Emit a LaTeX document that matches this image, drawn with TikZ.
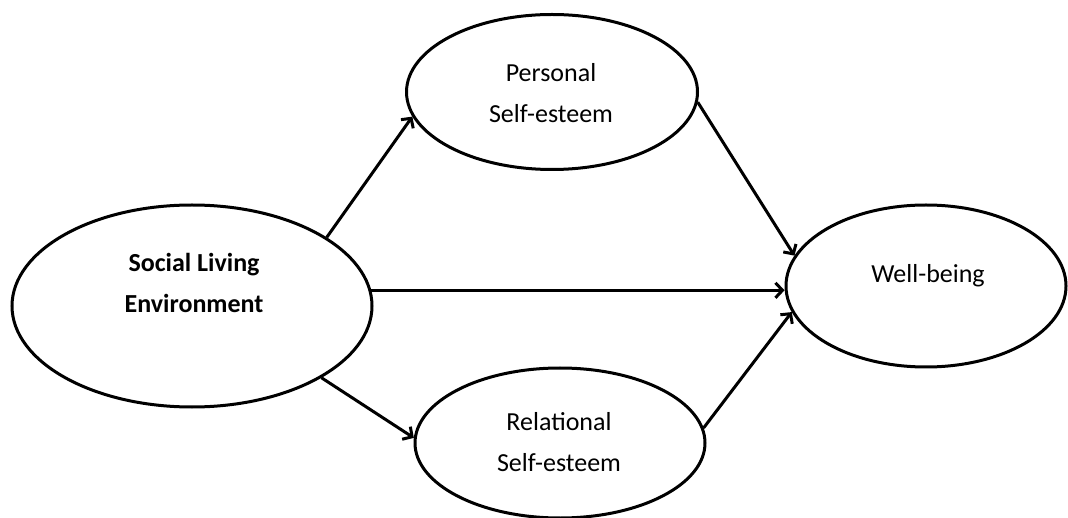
\documentclass[tikz,border=0pt]{standalone}
\usepackage{fontspec}
\setmainfont{Carlito}
\usetikzlibrary{shapes.geometric,arrows.meta}
\begin{document}
\begin{tikzpicture}[x=1pt,y=-1pt,
  construct/.style={draw=black,line width=3pt,ellipse,inner sep=0pt,fill=white},
  caption/.style={font=\fontsize{26}{41}\selectfont,align=center,inner sep=0pt},
  path/.style={draw=black,line width=3pt,-{Straight Barb[length=7pt,width=15pt]}}]
  \useasboundingbox (0,0) rectangle (1068,518);

  % latent constructs
  \node[construct,minimum width=360pt,minimum height=202pt] (sle) at (192,306) {};
  \node[construct,minimum width=291pt,minimum height=155pt] (pse) at (552,92) {};
  \node[construct,minimum width=290pt,minimum height=150pt] (rse) at (560,443) {};
  \node[construct,minimum width=280pt,minimum height=162pt] (wb) at (926,286) {};

  % construct names
  \node[caption,font=\fontsize{26}{41}\selectfont\bfseries] (sleT) at (194,283) {Social Living\\Environment};
  \node[caption] (pseT) at (551,93) {Personal\\Self-esteem};
  \node[caption] (rseT) at (559,442) {Relational\\Self-esteem};
  \node[caption] (wbT) at (928,276) {Well-being};

  % structural paths
  \draw[path] (sle.27.4) -- (pse.190.2);
  \draw[path] (sle.-29.7) -- (rse.178);
  \draw[path] (sle.5) -- (sle.5 -| wb.west);
  \draw[path] (pse.-4.7) -- (wb.167.8);
  \draw[path] (rse.6.4) -- (wb.191.4);
\end{tikzpicture}
\end{document}
